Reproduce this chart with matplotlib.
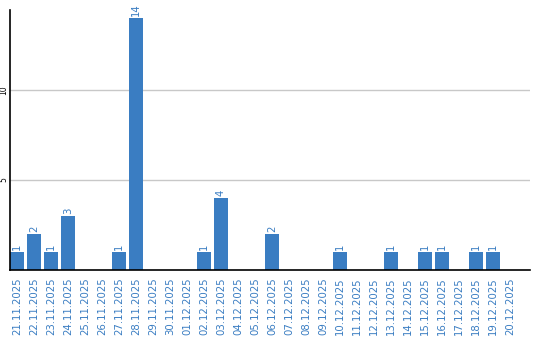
import numpy as np
import matplotlib.pyplot as plt

dates = ['21.11.2025', '22.11.2025', '23.11.2025', '24.11.2025', '25.11.2025',
         '26.11.2025', '27.11.2025', '28.11.2025', '29.11.2025', '30.11.2025',
         '01.12.2025', '02.12.2025', '03.12.2025', '04.12.2025', '05.12.2025',
         '06.12.2025', '07.12.2025', '08.12.2025', '09.12.2025', '10.12.2025',
         '11.12.2025', '12.12.2025', '13.12.2025', '14.12.2025', '15.12.2025',
         '16.12.2025', '17.12.2025', '18.12.2025', '19.12.2025', '20.12.2025']
counts = [1, 2, 1, 3, 0, 0, 1, 14, 0, 0,
          0, 1, 4, 0, 0, 2, 0, 0, 0, 1,
          0, 0, 1, 0, 1, 1, 0, 1, 1, 0]
y_ticks = [5, 10]

blue = '#3a7dc2'

fig = plt.figure(figsize=(5.4, 3.4), dpi=100)
ax = fig.add_axes([10/540, 70/340, 520/540, 260/340])

x = np.arange(len(dates))
w = 0.82
ax.bar(x, counts, width=w, color=blue, zorder=2)
for xi, c in zip(x, counts):
    if c > 0:
        ax.text(xi, c + 0.12, str(c), rotation=90, ha='center', va='bottom',
                color=blue, fontsize=7.3, family='DejaVu Sans')

ax.set_xlim(-w/2, -w/2 + 520/17)
ax.set_ylim(0, 260/18)

ax.set_yticks(y_ticks)
ax.set_yticklabels([str(t) for t in y_ticks], rotation=90, va='center',
                   fontsize=5.5, family='DejaVu Sans')
ax.tick_params(axis='y', length=0, pad=1)
ax.yaxis.grid(True, color='#c8c8c8', linewidth=1, zorder=0)
ax.set_axisbelow(True)

ax.set_xticks(x)
ax.set_xticklabels(dates, rotation=90, color=blue, fontsize=7.3,
                   family='DejaVu Sans', va='top')
ax.tick_params(axis='x', length=0, pad=5)

for s in ['top', 'right']:
    ax.spines[s].set_visible(False)
ax.spines['left'].set_linewidth(1.2)
ax.spines['bottom'].set_linewidth(1.2)

fig.savefig('out.png', dpi=100)
